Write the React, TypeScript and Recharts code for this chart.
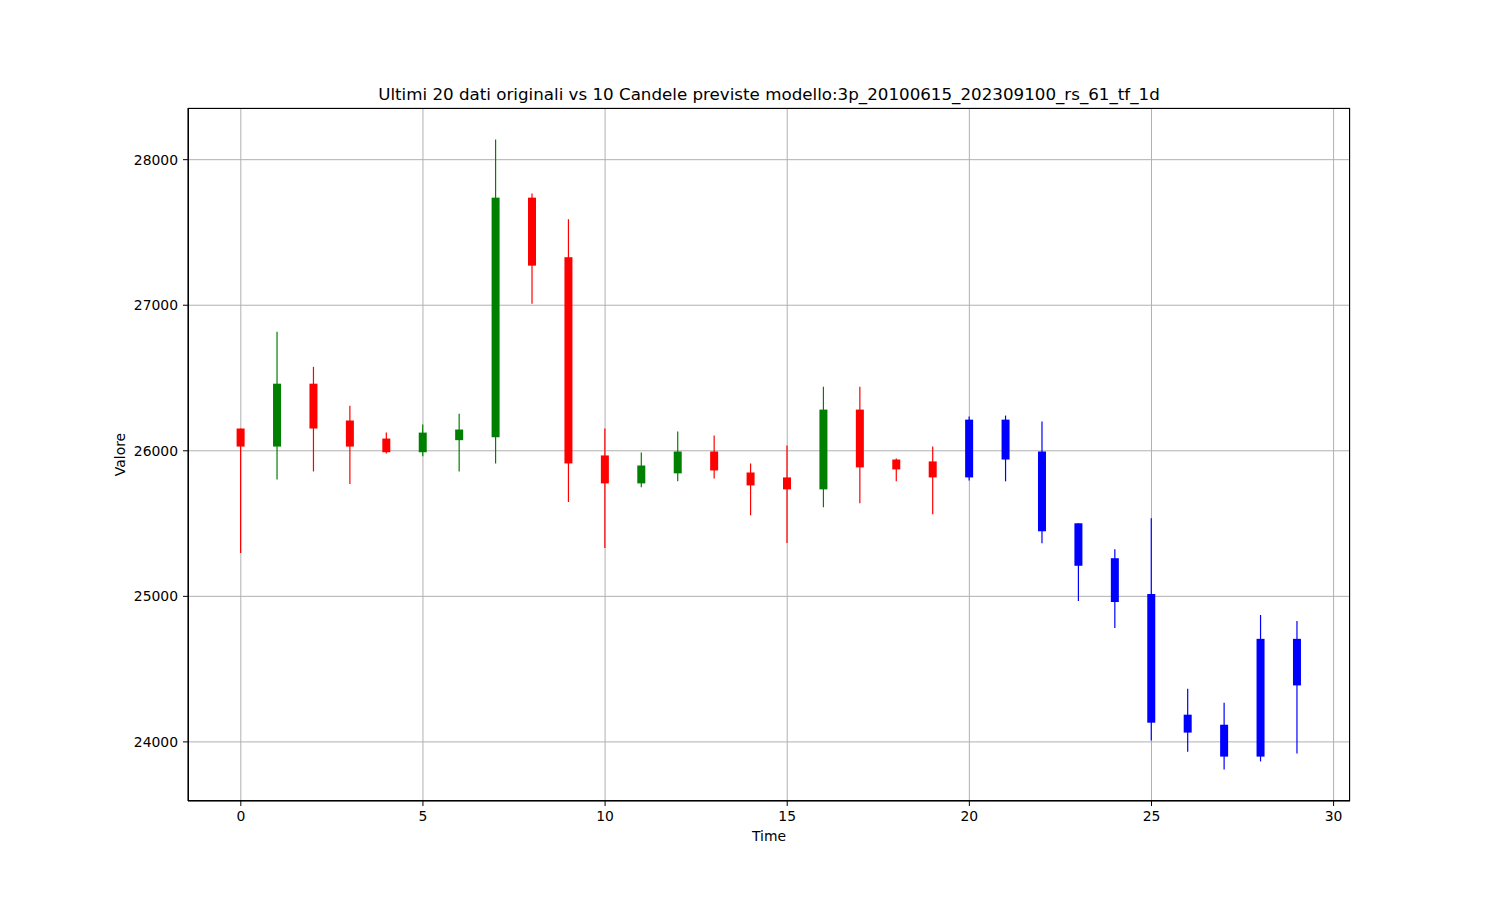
import React from 'react';
import { ComposedChart, Bar, XAxis, YAxis, CartesianGrid } from 'recharts';

// ultimi 20 dati originali + 10 candele previste
const times = [0, 1, 2, 3, 4, 5, 6, 7, 8, 9, 10, 11, 12, 13, 14, 15, 16, 17, 18, 19, 20, 21, 22, 23, 24, 25, 26, 27, 28, 29];
const opens = [26153, 26029, 26461, 26208, 26084, 25990, 26073, 26093, 27739, 27330, 25968, 25776, 25845, 25995, 25851, 25817, 25735, 26283, 25940, 25927, 26214, 26214, 25995, 25502, 25262, 25016, 24187, 24118, 24708, 24708];
const closes = [26029, 26461, 26153, 26029, 25990, 26125, 26146, 27739, 27272, 25913, 25776, 25899, 25995, 25865, 25762, 25735, 26283, 25886, 25872, 25817, 25817, 25940, 25447, 25210, 24961, 24132, 24064, 23899, 23899, 24388];
const highs = [26153, 26817, 26577, 26310, 26125, 26180, 26255, 28139, 27767, 27591, 26153, 25988, 26132, 26105, 25913, 26036, 26440, 26440, 25947, 26029, 26235, 26242, 26201, 25502, 25324, 25537, 24365, 24269, 24872, 24831];
const lows = [25297, 25803, 25858, 25771, 25982, 25963, 25858, 25913, 27011, 25648, 25333, 25749, 25790, 25810, 25557, 25367, 25612, 25639, 25790, 25564, 25796, 25790, 25365, 24968, 24783, 24009, 23933, 23810, 23866, 23920];
const nOriginal = 20;

const xTicks = [0, 5, 10, 15, 20, 25, 30];
const yTicks = [24000, 25000, 26000, 27000, 28000];

const data = times.map((t, i) => ({
  t,
  open: opens[i],
  close: closes[i],
  high: highs[i],
  low: lows[i],
  color: i >= nOriginal ? '#0000ff' : closes[i] > opens[i] ? '#008000' : '#ff0000',
}));

const FONT = '"DejaVu Sans", sans-serif';

const Candle = (props: any) => {
  const { x, y, width, height, payload } = props;
  const top = Math.min(y, y + height);
  const h = Math.abs(height);
  const range = payload.high - payload.low;
  const bodyTop = top + ((payload.high - Math.max(payload.open, payload.close)) / range) * h;
  const bodyBot = top + ((payload.high - Math.min(payload.open, payload.close)) / range) * h;
  const cx = x + width / 2;
  return (
    <g>
      <line x1={cx} x2={cx} y1={top} y2={top + h} stroke={payload.color} strokeWidth={1.2} />
      <rect x={x} y={bodyTop} width={width} height={Math.max(bodyBot - bodyTop, 1)} fill={payload.color} />
    </g>
  );
};

// etichetta asse y centrata sull'area del grafico
const YLabel = (props: any) => {
  const { viewBox } = props;
  const lx = viewBox.x - 8;
  const ly = viewBox.y + viewBox.height / 2;
  return (
    <text x={lx} y={ly} transform={`rotate(-90, ${lx}, ${ly})`} textAnchor="middle" dominantBaseline="central" fill="#000" fontSize={13.9} fontFamily={FONT}>
      Valore
    </text>
  );
};

export default function App() {
  return (
    <div style={{ position: 'absolute', left: 0, top: 0, width: 1500, height: 900, background: '#fff', fontFamily: FONT }}>
      <div style={{ position: 'absolute', left: 0, width: 1538, top: 84, textAlign: 'center', fontSize: 16.7, color: '#000' }}>
        Ultimi 20 dati originali vs 10 Candele previste modello:3p_20100615_202309100_rs_61_tf_1d
      </div>
      <ComposedChart width={1500} height={900} data={data} margin={{ top: 108, right: 150, bottom: 59, left: 128 }}>
        <CartesianGrid stroke="#b0b0b0" strokeWidth={1} />
        <XAxis
          dataKey="t"
          type="number"
          domain={[-1.45, 30.45]}
          ticks={xTicks}
          allowDataOverflow
          height={40}
          tickSize={5}
          tickMargin={5}
          stroke="#000"
          tick={{ fill: '#000', fontSize: 13.9, fontFamily: FONT }}
          label={{ value: 'Time', position: 'insideBottom', offset: 0, fill: '#000', fontSize: 13.9, fontFamily: FONT }}
        />
        <YAxis
          type="number"
          domain={[23594, 28355]}
          ticks={yTicks}
          allowDataOverflow
          width={60}
          tickSize={5}
          tickMargin={5}
          stroke="#000"
          tick={{ fill: '#000', fontSize: 13.9, fontFamily: FONT }}
          label={<YLabel />}
        />
        <Bar dataKey={(d: any) => [d.low, d.high]} barSize={8} shape={<Candle />} isAnimationActive={false} />
      </ComposedChart>
      <div style={{ position: 'absolute', left: 188, top: 108, width: 1162, height: 693, border: '1px solid #000', boxSizing: 'border-box', pointerEvents: 'none' }} />
    </div>
  );
}
